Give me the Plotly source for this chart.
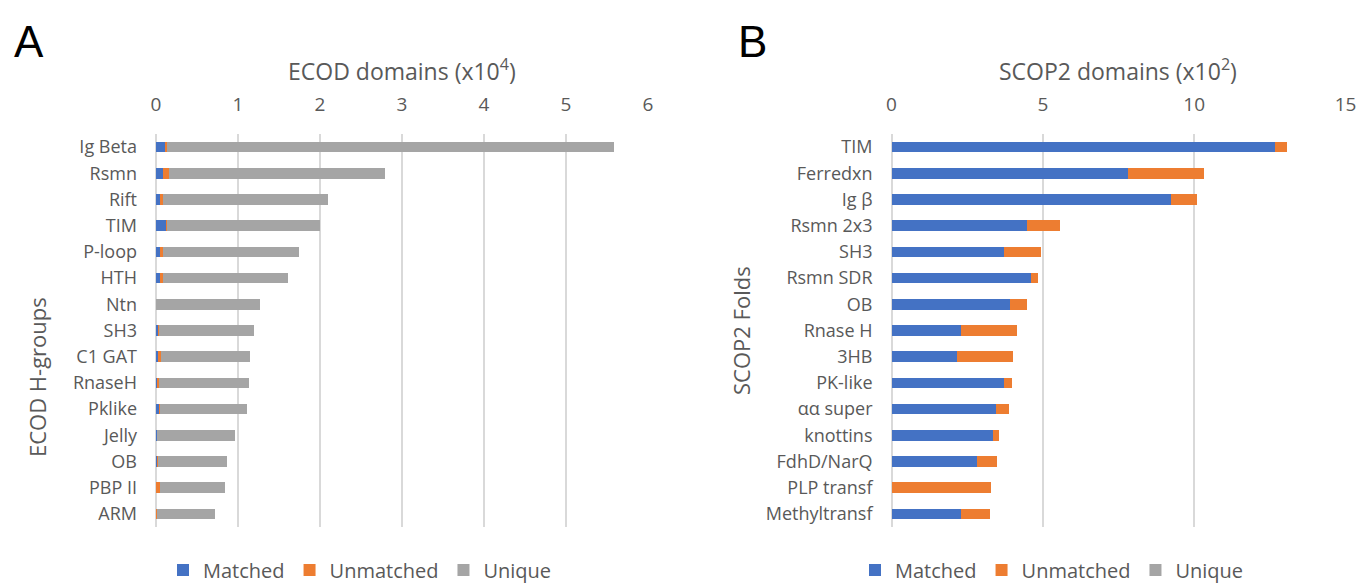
import plotly.graph_objects as go

# ---------------- data ----------------
ecod_groups = ["Ig Beta", "Rsmn", "Rift", "TIM", "P-loop", "HTH", "Ntn", "SH3",
               "C1 GAT", "RnaseH", "Pklike", "Jelly", "OB", "PBP II", "ARM"]
ecod_matched = [0.11, 0.08, 0.05, 0.13, 0.05, 0.05, 0.005, 0.03, 0.02, 0.01, 0.04, 0.01, 0.02, 0.005, 0.01]
ecod_unmatched = [0.02, 0.08, 0.03, 0.005, 0.04, 0.04, 0.0, 0.01, 0.04, 0.03, 0.005, 0.0, 0.005, 0.04, 0.005]
ecod_unique = [5.45, 2.63, 2.02, 1.87, 1.65, 1.52, 1.26, 1.16, 1.09, 1.10, 1.07, 0.95, 0.84, 0.80, 0.71]

scop_folds = ["TIM", "Ferredxn", "Ig β", "Rsmn 2x3", "SH3", "Rsmn SDR", "OB", "Rnase H",
              "3HB", "PK-like", "αα super", "knottins", "FdhD/NarQ", "PLP transf", "Methyltransf"]
scop_matched = [12.66, 7.81, 9.25, 4.47, 3.71, 4.62, 3.91, 2.30, 2.15, 3.71, 3.46, 3.36, 2.82, 0.0, 2.29]
scop_unmatched = [0.40, 2.50, 0.83, 1.11, 1.23, 0.21, 0.58, 1.86, 1.86, 0.28, 0.42, 0.20, 0.66, 3.28, 0.98]
scop_unique = [0] * 15

ecod_ticks = [0, 1, 2, 3, 4, 5, 6]
scop_ticks = [0, 5, 10, 15]

series_names = ["Matched", "Unmatched", "Unique"]
colors = ["#4472C4", "#ED7D31", "#A5A5A5"]

W, H = 1359, 586
FONT = "Open Sans"
TXT = "#595959"

fig = go.Figure()

for name, vals, col in zip(series_names, [ecod_matched, ecod_unmatched, ecod_unique], colors):
    fig.add_trace(go.Bar(y=ecod_groups, x=vals, name=name, orientation="h",
                         marker=dict(color=col, line=dict(width=0)),
                         xaxis="x", yaxis="y", legend="legend"))
for name, vals, col in zip(series_names, [scop_matched, scop_unmatched, scop_unique], colors):
    fig.add_trace(go.Bar(y=scop_folds, x=vals, name=name, orientation="h",
                         marker=dict(color=col, line=dict(width=0)),
                         xaxis="x2", yaxis="y2", legend="legend2"))


def px_x(p):
    return p / W


def px_y(p):
    return 1 - p / H


y_dom = [px_y(527), px_y(134)]

axis_common = dict(side="top", showline=False, ticks="", ticklabelstandoff=18,
                   automargin=False,
                   gridcolor="#D9D9D9", gridwidth=2, zeroline=True, zerolinecolor="#D9D9D9",
                   zerolinewidth=2, tickfont=dict(size=19, color=TXT, family=FONT),
                   fixedrange=True)
yaxis_common = dict(autorange="reversed", showline=False, ticks="", ticklabelstandoff=18,
                    automargin=False,
                    showgrid=False, tickfont=dict(size=18, color=TXT, family=FONT),
                    domain=y_dom, fixedrange=True)

legend_common = dict(orientation="h", yanchor="middle", y=px_y(570),
                     font=dict(size=20, color=TXT, family=FONT), itemwidth=30,
                     traceorder="normal", bgcolor="rgba(0,0,0,0)")

fig.update_layout(
    width=W, height=H, autosize=False,
    margin=dict(l=0, r=0, t=0, b=0, pad=0, autoexpand=False),
    paper_bgcolor="white", plot_bgcolor="white",
    barmode="stack", bargap=0.6,
    font=dict(family=FONT, color=TXT),
    xaxis=dict(domain=[px_x(156), px_x(648)], range=[0, 6], tickvals=ecod_ticks,
               anchor="y", **axis_common),
    yaxis=dict(anchor="x", **yaxis_common),
    xaxis2=dict(domain=[px_x(891.5), px_x(1345.5)], range=[0, 15], tickvals=scop_ticks,
                anchor="y2", **axis_common),
    yaxis2=dict(anchor="x2", **yaxis_common),
    legend=dict(x=px_x(360), xanchor="center", **legend_common),
    legend2=dict(x=px_x(1052), xanchor="center", **legend_common),
    showlegend=True,
)

annotations = [
    dict(text="A", x=px_x(29), y=px_y(42), xref="paper", yref="paper", showarrow=False,
         font=dict(size=44, color="black", family="Liberation Sans"), xanchor="center", yanchor="middle"),
    dict(text="B", x=px_x(752), y=px_y(42), xref="paper", yref="paper", showarrow=False,
         font=dict(size=44, color="black", family="Liberation Sans"), xanchor="center", yanchor="middle"),
    dict(text="ECOD domains (x10<sup>4</sup>)", x=px_x(402), y=px_y(70), xref="paper", yref="paper",
         showarrow=False, font=dict(size=23, color=TXT, family=FONT), xanchor="center", yanchor="middle"),
    dict(text="SCOP2 domains (x10<sup>2</sup>)", x=px_x(1118), y=px_y(70), xref="paper", yref="paper",
         showarrow=False, font=dict(size=23, color=TXT, family=FONT), xanchor="center", yanchor="middle"),
    dict(text="ECOD H-groups", x=px_x(37), y=px_y(377), xref="paper", yref="paper", textangle=-90,
         showarrow=False, font=dict(size=22, color=TXT, family=FONT), xanchor="center", yanchor="middle"),
    dict(text="SCOP2 Folds", x=px_x(741), y=px_y(331), xref="paper", yref="paper", textangle=-90,
         showarrow=False, font=dict(size=22, color=TXT, family=FONT), xanchor="center", yanchor="middle"),
]
fig.update_layout(annotations=annotations)

fig.write_html("out.html")
